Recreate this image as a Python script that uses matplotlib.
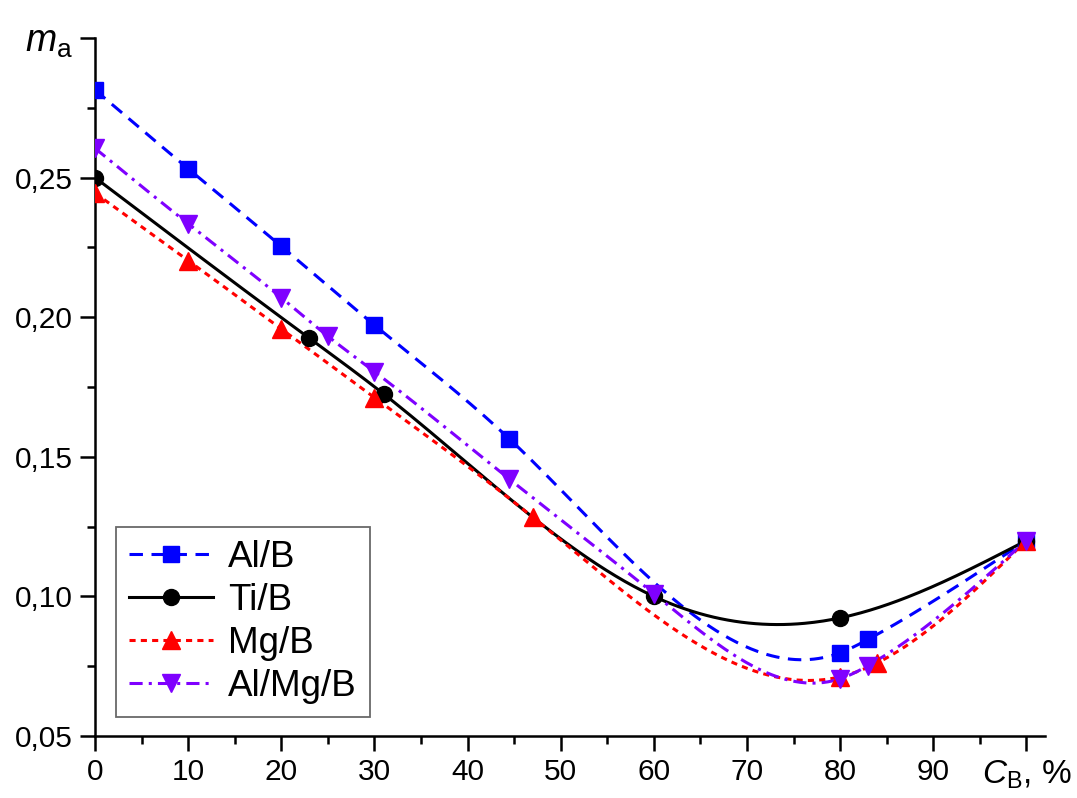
import numpy as np
import matplotlib
matplotlib.use("Agg")
import matplotlib.pyplot as plt
from matplotlib.ticker import FixedLocator, MultipleLocator, FixedFormatter

plt.rcParams['font.family'] = ['Liberation Sans', 'DejaVu Sans']
plt.rcParams['mathtext.fontset'] = 'custom'
plt.rcParams['mathtext.rm'] = 'Liberation Sans'
plt.rcParams['mathtext.it'] = 'Liberation Sans:italic'

# ---- data ----
al_b_x = [0, 10, 20, 30, 44.5, 80, 83, 100]
al_b_y = [0.2814, 0.2532, 0.2254, 0.1972, 0.1564, 0.0798, 0.0846, 0.1200]

ti_b_x = [0, 23, 31, 60, 80, 100]
ti_b_y = [0.2500, 0.1925, 0.1725, 0.1000, 0.0923, 0.1200]

mg_b_x = [0, 10, 20, 30, 47, 80, 84, 100]
mg_b_y = [0.2445, 0.2203, 0.1958, 0.1712, 0.1284, 0.0712, 0.0762, 0.1200]

almg_b_x = [0, 10, 20, 25, 30, 44.5, 60, 80, 83, 100]
almg_b_y = [0.2605, 0.2335, 0.2070, 0.1932, 0.1805, 0.1420, 0.1010, 0.0705, 0.0752, 0.1200]

labels = ['Al/B', 'Ti/B', 'Mg/B', 'Al/Mg/B']
xticks = [0, 10, 20, 30, 40, 50, 60, 70, 80, 90, 100]
xticklabels = ['0', '10', '20', '30', '40', '50', '60', '70', '80', '90', r'$C_{\rm B}$, %']
yticks = [0.05, 0.10, 0.15, 0.20, 0.25, 0.30]
yticklabels = ['0,05', '0,10', '0,15', '0,20', '0,25', r'$m_{\rm a}$']


def natural_spline(x, y, n=400):
    x = np.asarray(x, float)
    y = np.asarray(y, float)
    m = len(x)
    h = np.diff(x)
    A = np.zeros((m, m))
    b = np.zeros(m)
    A[0, 0] = 1
    A[-1, -1] = 1
    for i in range(1, m - 1):
        A[i, i - 1] = h[i - 1]
        A[i, i] = 2 * (h[i - 1] + h[i])
        A[i, i + 1] = h[i]
        b[i] = 6 * ((y[i + 1] - y[i]) / h[i] - (y[i] - y[i - 1]) / h[i - 1])
    M = np.linalg.solve(A, b)
    xs = np.linspace(x[0], x[-1], n)
    idx = np.clip(np.searchsorted(x, xs) - 1, 0, m - 2)
    x0, x1 = x[idx], x[idx + 1]
    hh = x1 - x0
    a = (x1 - xs) / hh
    bb = (xs - x0) / hh
    ys = (a * y[idx] + bb * y[idx + 1]
          + ((a ** 3 - a) * M[idx] + (bb ** 3 - bb) * M[idx + 1]) * hh ** 2 / 6)
    return xs, ys


fig = plt.figure(figsize=(10.77, 7.98), dpi=100)
ax = fig.add_axes([95 / 1077, 62 / 798, 950 / 1077, 698 / 798])

LW = 2.2
series = [
    (al_b_x, al_b_y, '#0000FF', (0, (4.4, 2.8)), 's', 11),
    (ti_b_x, ti_b_y, '#000000', '-', 'o', 11.5),
    (mg_b_x, mg_b_y, '#FF0000', (0, (2.0, 1.7)), '^', 13),
    (almg_b_x, almg_b_y, '#7F00FF', (0, (4.3, 2.0, 1.0, 2.0)), 'v', 13),
]

handles = []
for (x, y, c, ls, mk, ms), lab in zip(series, labels):
    xs, ys = natural_spline(x, y)
    ax.plot(xs, ys, color=c, linestyle=ls, linewidth=LW, zorder=2)
    ax.plot(x, y, linestyle='none', marker=mk, markersize=ms, color=c,
            markeredgecolor=c, zorder=3)
    h, = ax.plot([], [], color=c, linestyle=ls, linewidth=LW, marker=mk,
                 markersize=ms, markeredgecolor=c)
    handles.append(h)

ax.set_xlim(0, 102)
ax.set_ylim(0.05, 0.30)

ax.spines['top'].set_visible(False)
ax.spines['right'].set_visible(False)
for s in ['left', 'bottom']:
    ax.spines[s].set_linewidth(1.8)

ax.xaxis.set_major_locator(FixedLocator(xticks))
ax.xaxis.set_major_formatter(FixedFormatter(xticklabels))
ax.xaxis.set_minor_locator(MultipleLocator(5))
ax.yaxis.set_major_locator(FixedLocator(yticks))
ax.yaxis.set_major_formatter(FixedFormatter(yticklabels))
ax.yaxis.set_minor_locator(MultipleLocator(0.025))

ax.tick_params(which='major', direction='out', length=11, width=1.8,
               labelsize=21.5, pad=5)
ax.tick_params(which='minor', direction='out', length=6, width=1.8)

# the axis-name tick labels
for t in ax.get_yticklabels():
    if 'm' in t.get_text():
        t.set_fontsize(27)
for t in ax.get_xticklabels():
    if 'C' in t.get_text():
        t.set_fontsize(24)

leg = ax.legend(handles, labels, loc='lower left',
                bbox_to_anchor=(0.022, 0.027), fontsize=26.5, frameon=True,
                fancybox=False, edgecolor='#444444', handlelength=2.3,
                handletextpad=0.4, labelspacing=0.22, borderpad=0.35,
                borderaxespad=0)
leg.get_frame().set_linewidth(1.3)

fig.savefig('out.png', dpi=100)
